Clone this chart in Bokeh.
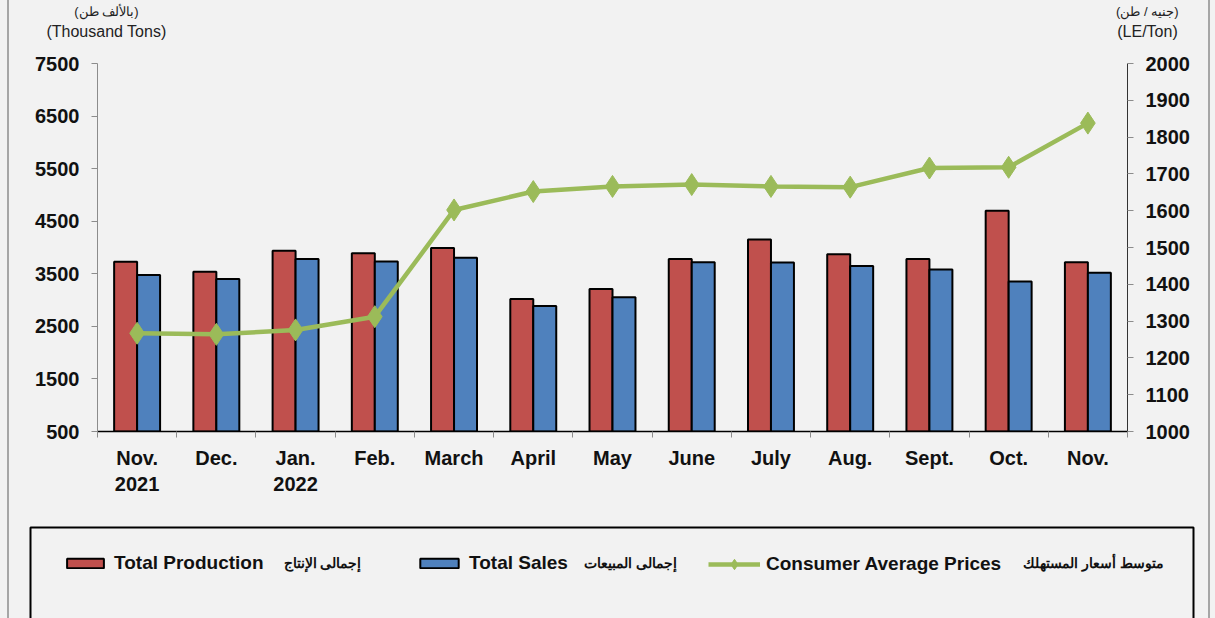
from bokeh.plotting import figure
from bokeh.models import (Range1d, LinearAxis, FixedTicker, Legend, LegendItem, Label,
                          ColumnDataSource, BoxAnnotation)
from bokeh.layouts import column, row
from bokeh.embed import file_html
from bokeh.resources import INLINE

months = ["Nov.\n2021", "Dec.", "Jan.\n2022", "Feb.", "March", "April", "May", "June",
          "July", "Aug.", "Sept.", "Oct.", "Nov."]
production = [3730, 3540, 3940, 3890, 3990, 3020, 3210, 3780, 4150, 3870, 3780, 4700, 3720]
sales = [3475, 3400, 3780, 3735, 3805, 2885, 3055, 3720, 3715, 3650, 3580, 3355, 3520]
prices = [1267, 1264, 1276, 1312, 1602, 1652, 1666, 1671, 1666, 1664, 1716, 1718, 1838]

left_ticks = [500, 1500, 2500, 3500, 4500, 5500, 6500, 7500]
right_ticks = [1000, 1100, 1200, 1300, 1400, 1500, 1600, 1700, 1800, 1900, 2000]

left_title_ar = "(بالألف طن)"
left_title_en = "(Thousand Tons)"
right_title_ar = "(جنيه / طن)"
right_title_en = "(LE/Ton)"

series_en = ["Total Production", "Total Sales", "Consumer Average Prices"]
series_ar = ["إجمالى الإنتاج", "إجمالى المبيعات", "متوسط أسعار المستهلك"]

BG = "#f2f2f2"
RED = "#c0504d"
BLUE = "#4f81bd"
GREEN = "#9bbb59"
FONT = "Liberation Sans"
NB = "\u00a0"
NAN = float("nan")

n = len(months)
centers = [i + 0.5 for i in range(n)]
off = 0.145
bw = 0.29

src = ColumnDataSource(dict(
    xr=[c - off for c in centers], xb=[c + off for c in centers], xc=centers,
    prod=production, sales=sales, price=prices))

p = figure(frame_width=1030, frame_height=368, output_backend="svg", toolbar_location=None,
           x_range=Range1d(0, n), y_range=Range1d(500, 7500),
           min_border_left=97, min_border_right=88, min_border_top=63, min_border_bottom=79)
p.background_fill_color = BG
p.border_fill_alpha = 0
p.outline_line_color = None
p.xgrid.visible = False
p.ygrid.visible = False
p.extra_y_ranges = {"price": Range1d(1000, 2000)}
p.extra_x_ranges = {"t": Range1d(0, 1030.01)}

p.vbar(x="xr", top="prod", bottom=500, width=bw, source=src,
       fill_color=RED, line_color="black", line_width=2)
p.vbar(x="xb", top="sales", bottom=500, width=bw, source=src,
       fill_color=BLUE, line_color="black", line_width=2)
p.line(x="xc", y="price", source=src, y_range_name="price",
       line_color=GREEN, line_width=4.5)
p.scatter(x="xc", y="price", source=src, y_range_name="price", marker="diamond",
          size=22, fill_color=GREEN, line_color=GREEN)

# x axis
xa = p.xaxis[0]
xa.ticker = FixedTicker(ticks=centers, minor_ticks=list(range(n + 1)))
xa.major_label_overrides = {c: m for c, m in zip(centers, months)}
xa.major_tick_out = 0
xa.major_tick_in = 0
xa.minor_tick_out = 6
xa.minor_tick_in = 0
xa.minor_tick_line_color = "#8c8c8c"
xa.axis_line_color = "black"
xa.axis_line_width = 1.5
xa.major_label_text_font = FONT
xa.major_label_text_font_style = "bold"
xa.major_label_text_font_size = "20px"
xa.major_label_text_color = "#111111"
xa.major_label_standoff = 9

# left axis
ya = p.yaxis[0]
ya.ticker = FixedTicker(ticks=left_ticks)
ya.minor_tick_line_color = None
ya.major_tick_out = 6
ya.major_tick_in = 0
ya.axis_line_color = "#8c8c8c"
ya.major_tick_line_color = "#8c8c8c"
ya.major_label_text_font = FONT
ya.major_label_text_font_style = "bold"
ya.major_label_text_font_size = "20px"
ya.major_label_text_color = "#111111"
ya.major_label_standoff = 12

# right axis
ra = LinearAxis(y_range_name="price", ticker=FixedTicker(ticks=right_ticks))
ra.minor_tick_line_color = None
ra.major_tick_out = 6
ra.major_tick_in = 0
ra.axis_line_color = "#333333"
ra.major_tick_line_color = "#8c8c8c"
ra.major_label_text_font = FONT
ra.major_label_text_font_style = "bold"
ra.major_label_text_font_size = "20px"
ra.major_label_text_color = "#111111"
ra.major_label_standoff = 12
p.add_layout(ra, "right")

# axis titles as label-only axes above the frame
def title_axis(left_txt, right_txt, size, pad, standoff):
    ax = LinearAxis(x_range_name="t", ticker=FixedTicker(ticks=[9, 1030]),
                    major_label_overrides={9: left_txt, 1030: NB * pad + right_txt})
    ax.axis_line_color = None
    ax.major_tick_line_color = None
    ax.minor_tick_line_color = None
    ax.major_tick_out = 0
    ax.major_tick_in = 0
    ax.major_label_standoff = standoff
    ax.major_label_text_font = FONT
    ax.major_label_text_font_size = size
    ax.major_label_text_color = "#222222"
    return ax

p.add_layout(title_axis(left_title_en, right_title_en, "16px", 9, 24), "above")
p.add_layout(title_axis(left_title_ar, right_title_ar, "13px", 11, 1), "above")

# legend strip (pixel-like coordinates: x left->right, y top->bottom)
H2 = 108
p2 = figure(width=1215, height=H2, output_backend="svg", toolbar_location=None,
            x_range=Range1d(0, 1215), y_range=Range1d(618, 618 - H2),
            x_axis_type=None, y_axis_type=None,
            min_border_left=0, min_border_right=0, min_border_top=0, min_border_bottom=0)
p2.background_fill_alpha = 0
p2.border_fill_alpha = 0
p2.outline_line_color = None
p2.xgrid.visible = False
p2.ygrid.visible = False

p2.add_layout(BoxAnnotation(left=30, right=1193, top=527, bottom=700,
                            fill_alpha=0, line_color="black", line_alpha=1, line_width=2))

proxy = ColumnDataSource(dict(x=[NAN], y=[NAN]))
g_prod = p2.vbar(x="x", top="y", width=1, source=proxy, fill_color=RED,
                 line_color="black", line_width=2)
g_sales = p2.vbar(x="x", top="y", width=1, source=proxy, fill_color=BLUE,
                  line_color="black", line_width=2)
g_line = p2.line(x="x", y="y", source=proxy, line_color=GREEN, line_width=4.5)
g_pts = p2.scatter(x="x", y="y", source=proxy, marker="diamond", size=12,
                   fill_color=GREEN, line_color=GREEN)

def make_legend(label, rends, x, y, gw, gh):
    lg = Legend(items=[LegendItem(label=label, renderers=rends)], location=(x, y),
                orientation="horizontal")
    lg.border_line_color = None
    lg.background_fill_alpha = 0
    lg.padding = 0
    lg.margin = 0
    lg.glyph_width = gw
    lg.glyph_height = gh
    lg.label_standoff = 6
    lg.label_height = 20
    lg.label_text_font = FONT
    lg.label_text_font_style = "bold"
    lg.label_text_font_size = "19px"
    lg.label_text_color = "#111111"
    return lg

p2.add_layout(make_legend(series_en[0], [g_prod], 62, 44, 46, 12))
p2.add_layout(make_legend(series_en[1], [g_sales], 415, 44, 48, 12))
p2.add_layout(make_legend(series_en[2], [g_line, g_pts], 708, 41, 52, 26))

for txt, cx in zip(series_ar, [322, 630, 1093]):
    p2.add_layout(Label(x=cx, y=562, text=txt, text_font=FONT, text_font_style="bold",
                        text_font_size="14px", text_align="center", text_baseline="middle",
                        text_color="#111111"))

layout = column(p, row(p2), spacing=0)
layout.styles = {
    "background-color": BG,
    "background-image": ("linear-gradient(to right, transparent 7px, #a6a6a6 7px, #a6a6a6 9px, "
                         "transparent 9px, transparent 1208px, #a6a6a6 1208px, #a6a6a6 1210px, "
                         "transparent 1210px)"),
}

open("out.html", "w").write(file_html(layout, INLINE))
